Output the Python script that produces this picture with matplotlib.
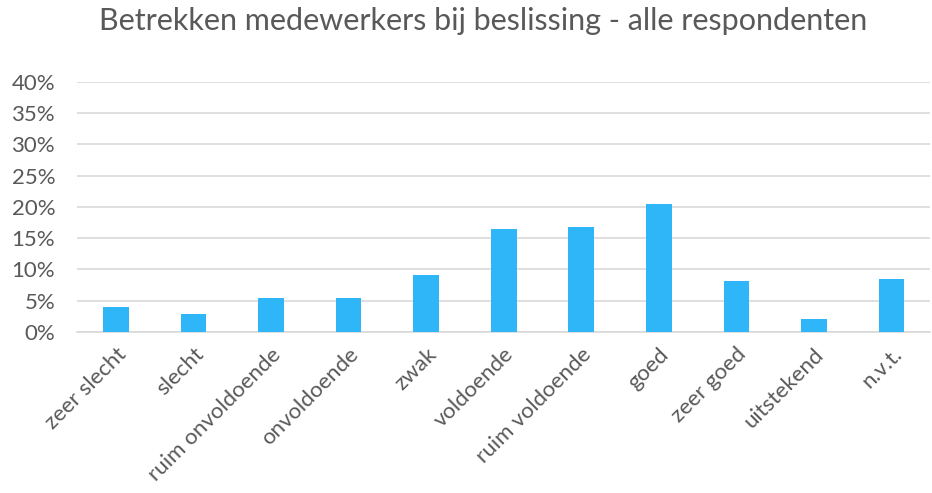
import numpy as np
import matplotlib.pyplot as plt
from matplotlib.ticker import PercentFormatter

categories = ['zeer slecht', 'slecht', 'ruim onvoldoende', 'onvoldoende', 'zwak',
              'voldoende', 'ruim voldoende', 'goed', 'zeer goed', 'uitstekend', 'n.v.t.']
values = [3.9, 2.9, 5.4, 5.4, 9.1, 16.4, 16.8, 20.4, 8.2, 2.0, 8.4]
yticks = [0, 5, 10, 15, 20, 25, 30, 35, 40]

plt.rcParams['font.family'] = ['Lato', 'DejaVu Sans']

fig = plt.figure(figsize=(9.32, 4.93), dpi=100)
ax = fig.add_axes([0.083, 0.327, 0.915, 0.507])

x = np.arange(len(categories))
ax.bar(x, values, width=0.33, color='#2FB6F9', zorder=3)

ax.set_ylim(0, 40)
ax.set_xlim(-0.5, len(categories) - 0.5)
ax.set_yticks(yticks)
ax.yaxis.set_major_formatter(PercentFormatter(decimals=0))
ax.grid(axis='y', color='#d9d9d9', lw=1.2, zorder=0)
for s in ['top', 'right', 'left']:
    ax.spines[s].set_visible(False)
ax.spines['bottom'].set_color('#d9d9d9')
ax.spines['bottom'].set_linewidth(1.2)
ax.tick_params(length=0, labelsize=16, colors='#595959', pad=9)
ax.tick_params(axis='y', pad=16)

ax.set_xticks(x)
ax.set_xticklabels(categories, rotation=45, ha='right', rotation_mode='anchor')

fig.suptitle('Betrekken medewerkers bij beslissing - alle respondenten',
             x=0.518, y=0.985, fontsize=22, color='#595959')

fig.savefig('out.png', dpi=100)
